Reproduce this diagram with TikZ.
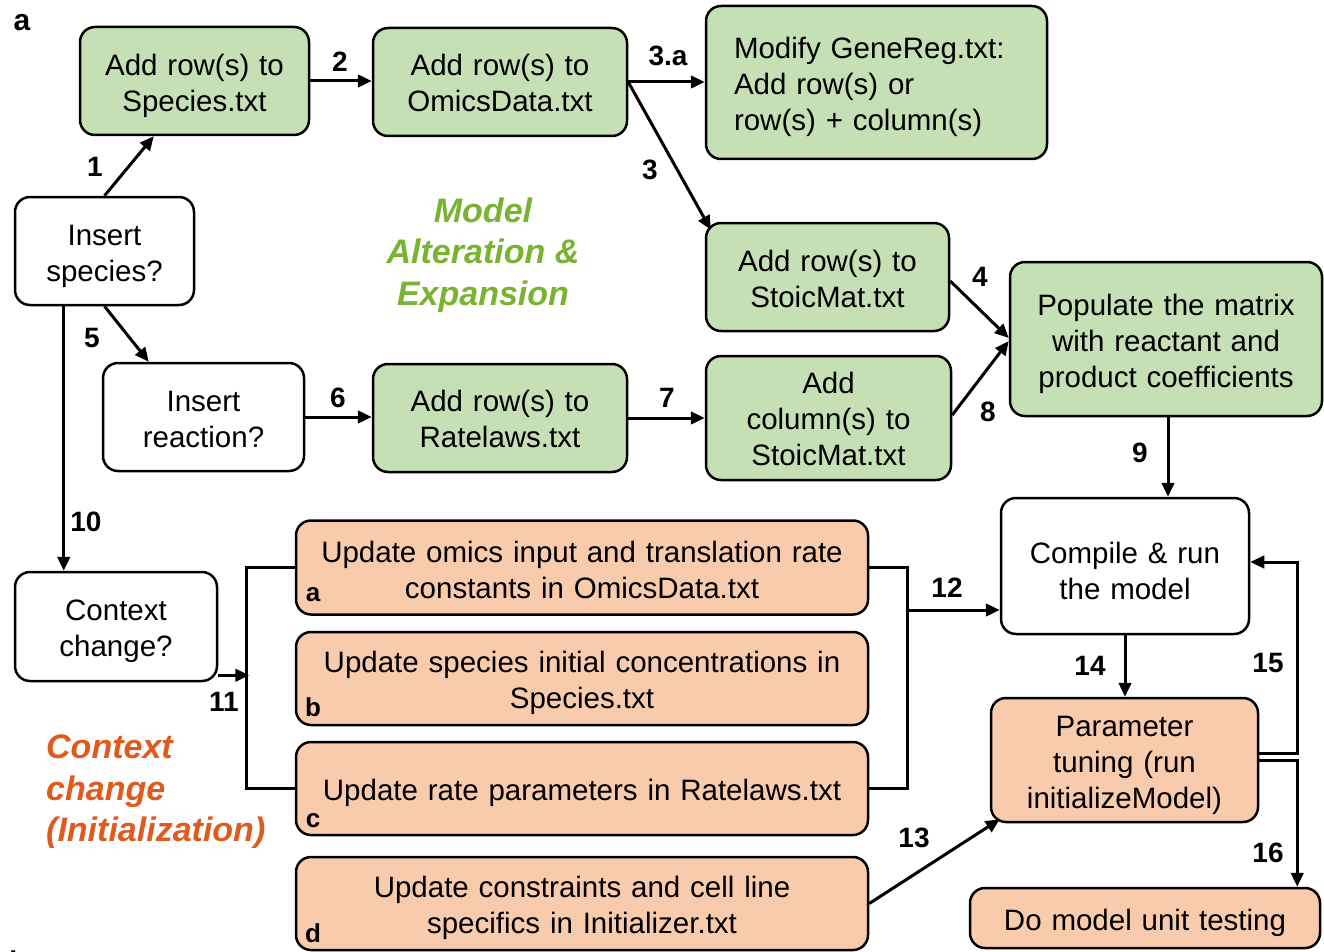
\documentclass[tikz,border=0pt]{standalone}
\usepackage{fontspec}
\setmainfont{Liberation Sans}
\usetikzlibrary{arrows.meta,calc}
\definecolor{gfill}{HTML}{C5E0B4}
\definecolor{ofill}{HTML}{F8CBAD}
\definecolor{gtext}{RGB}{122,178,50}
\definecolor{otext}{RGB}{224,90,30}
\tikzset{
  box/.style={draw=black, line width=2.5pt, rounded corners=15pt, align=center, inner sep=0pt,
    font=\fontsize{29.5}{36}\selectfont, execute at begin node={\rule{0pt}{#1}}},
  box/.default=30.5pt,
  gbox/.style={box=#1, fill=gfill}, gbox/.default=30.5pt,
  obox/.style={box=#1, fill=ofill}, obox/.default=30.5pt,
  wbox/.style={box=#1, fill=white}, wbox/.default=30.5pt,
  conn/.style={line width=3pt, -{Triangle[length=14pt,width=12.5pt]}},
  plain/.style={line width=3.2pt},
  num/.style={font=\fontsize{28}{30}\selectfont\bfseries, inner sep=0pt},
  sub/.style={font=\fontsize{26}{28}\selectfont\bfseries, inner sep=0pt},
  title/.style={font=\fontsize{34}{41.5}\selectfont\bfseries\itshape, inner sep=0pt},
}
\begin{document}
\begin{tikzpicture}[x=1pt,y=-1pt]
\clip (0,0) rectangle (1324,952);
\fill[white] (0,0) rectangle (1324,952);

% panel labels
\node[font=\fontsize{30}{32}\selectfont\bfseries, inner sep=0pt] (pa) at (22,23) {a};
\node[font=\fontsize{30}{32}\selectfont\bfseries, inner sep=0pt, anchor=base west] (pb) at (9,972) {b};

% green boxes
\node[gbox, minimum width=229, minimum height=108, text width=225] (species) at (194.5,81) {Add row(s) to\\Species.txt};
\node[gbox=22.5pt, minimum width=254, minimum height=108, text width=250] (omics) at (500,82) {Add row(s) to\\OmicsData.txt};
\node[gbox, minimum width=341, minimum height=153, text width=285, align=left, inner xsep=28pt] (genereg) at (876.5,82.5) {Modify GeneReg.txt:\\Add row(s) or\\row(s) + column(s)};
\node[gbox=24.5pt, minimum width=243, minimum height=108, text width=239] (stoicrow) at (827.5,277) {Add row(s) to\\StoicMat.txt};
\node[gbox, minimum width=312, minimum height=154, text width=308] (populate) at (1166,339) {Populate the matrix\\with reactant and\\product coefficients};
\node[gbox=22.5pt, minimum width=254, minimum height=108, text width=250] (ratelaws) at (500,418) {Add row(s) to\\Ratelaws.txt};
\node[gbox=22.5pt, minimum width=245, minimum height=124, text width=241] (stoiccol) at (828.5,418) {Add\\column(s) to\\StoicMat.txt};

% white boxes
\node[wbox, minimum width=179, minimum height=108, text width=175] (inssp) at (104.5,251) {Insert\\species?};
\node[wbox=24.5pt, minimum width=201, minimum height=108, text width=197] (insrx) at (203.5,417) {Insert\\reaction?};
\node[wbox, minimum width=248, minimum height=136, text width=244] (compile) at (1125,566) {Compile \& run\\the model};
\node[wbox, minimum width=202, minimum height=109, text width=198] (context) at (116,626.5) {Context\\change?};

% orange boxes
\node[obox=26.5pt, minimum width=572, minimum height=94, text width=568] (upa) at (582,567.5) {Update omics input and translation rate\\constants in OmicsData.txt};
\node[obox, minimum width=572, minimum height=93, text width=568] (upb) at (582,678.5) {Update species initial concentrations in\\Species.txt};
\node[obox, minimum width=572, minimum height=93, text width=568] (upc) at (582,788.5) {Update rate parameters in Ratelaws.txt};
\node[obox, minimum width=572, minimum height=93, text width=568] (upd) at (582,903.5) {Update constraints and cell line\\specifics in Initializer.txt};
\node[obox, minimum width=267, minimum height=124, text width=263] (param) at (1124.5,760) {Parameter\\tuning (run\\initializeModel)};
\node[obox, minimum width=350, minimum height=60, text width=346] (unit) at (1145,918) {Do model unit testing};

\node[sub] (la) at (313,595) {a};
\node[sub] (lb) at (313,707) {b};
\node[sub] (lc) at (313,821) {c};
\node[sub] (ld) at (313,933) {d};

% section titles
\node[title, text=gtext, align=center] (mtitle) at (483,255) {Model\\Alteration \&\\Expansion};
\node[title, text=otext, align=left, anchor=west] (ctitle) at (46,792) {Context\\change\\(Initialization)};

% connectors
\draw[conn] (inssp.north) -- ($(species.south west)+(75,0)$);
\draw[conn] (species.east) -- (species.east -| omics.west);
\draw[conn] (omics.east) -- (omics.east -| genereg.west);
\draw[conn] (omics.east) -- ($(stoicrow.north west)+(6,8)$);
\draw[conn] ($(stoicrow.east)+(0,4)$) -- ($(populate.west)+(0,-1)$);
\draw[conn] ($(stoiccol.east)+(0,-3)$) -- ($(populate.west)+(0,2)$);
\draw[conn] ($(populate.south)+(2,0)$) coordinate (p9) -- (p9 |- compile.north);
\draw[conn] (inssp.south) -- ($(insrx.north west)+(47,0)$);
\draw[conn] (insrx.east) -- (insrx.east -| ratelaws.west);
\draw[conn] (ratelaws.east) -- (ratelaws.east -| stoiccol.west);
\draw[conn] ($(inssp.south west)+(50,0)$) coordinate (p10) -- (p10 |- context.north);
% left bracket
\draw[plain] (upa.west) -- ++(-48,0) |- (upc.west);
\draw[conn] ($(context.south east)+(0,-7)$) -- ++(31,0);
% right bracket
\draw[plain] (upa.east) -- ++(38,0) |- (upc.east);
\coordinate (rb) at (906,610);
\draw[conn] (rb) -- (rb -| compile.west);
\draw[conn] (upd.east) -- ($(param.south west)+(10,-4)$);
\draw[conn] (compile.south) -- (compile.south |- param.north);
\draw[conn] ($(param.east)+(0,-7)$) -| ($(compile.east)+(47,-4)$) -- ($(compile.east)+(0,-4)$);
\draw[conn] (param.east) -| ($(unit.north east)+(-24,0)$);

% step numbers
\node[num] (n1) at (95,167) {1};
\node[num] (n2) at (340,62) {2};
\node[num] (n3a) at (668,56) {3.a};
\node[num] (n3) at (650,170) {3};
\node[num] (n4) at (980,277) {4};
\node[num] (n5) at (92,338) {5};
\node[num] (n6) at (338,398) {6};
\node[num] (n7) at (667,398) {7};
\node[num] (n8) at (988,412) {8};
\node[num] (n9) at (1140,453) {9};
\node[num] (n10) at (86,522) {10};
\node[num] (n11) at (224,702) {11};
\node[num] (n12) at (947,588) {12};
\node[num] (n13) at (914,838) {13};
\node[num] (n14) at (1090,666) {14};
\node[num] (n15) at (1268,663) {15};
\node[num] (n16) at (1268,853) {16};
\end{tikzpicture}
\end{document}
